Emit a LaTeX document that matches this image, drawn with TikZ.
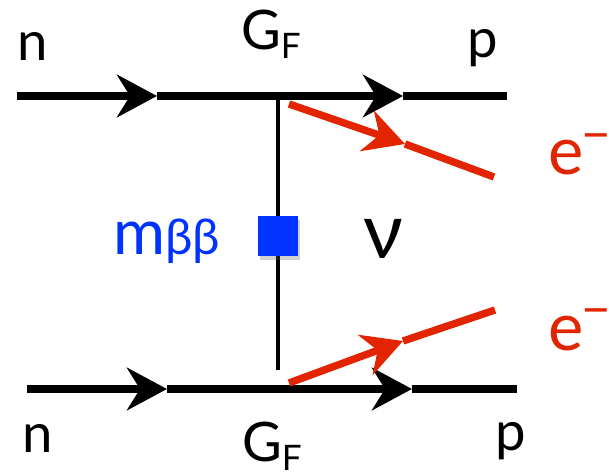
\documentclass[tikz,border=0pt]{standalone}
\usepackage{fontspec}
\setmainfont{Lato}
\usepackage{tikz}
\usetikzlibrary{arrows.meta, shadows}
\definecolor{accRed}{RGB}{226, 36, 0}
\definecolor{accBlue}{RGB}{0, 51, 255}
\newcommand{\lowsub}[1]{\raisebox{-0.18cm}{\fontsize{20}{20}\selectfont #1}}
\newcommand{\upminus}{\kern-1pt\raisebox{0.45cm}{\fontsize{29}{30}\selectfont −}}

\begin{document}
\begin{tikzpicture}[
        x=0.02cm, y=-0.02cm,
        font=\fontsize{31}{36}\selectfont,
        lbl/.style={anchor=base west, inner sep=0pt, outer sep=0pt},
        fer/.style={line width=4.5pt, black},
        lep/.style={line width=4.2pt, accRed},
        prop/.style={line width=2.2pt, black},
        arr/.style={-{Stealth[length=0.8cm, width=0.85cm, inset=0.26cm]}},
        mass/.style={rectangle, fill=accBlue, minimum size=0.8cm, inner sep=0pt,
            drop shadow={opacity=0.2, shadow xshift=0.04cm, shadow yshift=-0.08cm}}
    ]
    \useasboundingbox (0,0) rectangle (612,476);
    % upper line
    \coordinate (nin1)  at (17,96);
    \coordinate (a1)    at (157,96);
    \coordinate (v1)    at (278,96);
    \coordinate (b1)    at (403,96);
    \coordinate (pout1) at (507,96);
    % lower line
    \coordinate (nin2)  at (27,389);
    \coordinate (a2)    at (167,389);
    \coordinate (v2)    at (278,389);
    \coordinate (b2)    at (412,389);
    \coordinate (pout2) at (517,389);
    % electrons
    \coordinate (es1) at (289,104);
    \coordinate (ea1) at (405,144);
    \coordinate (ee1) at (494,177);
    \coordinate (es2) at (289,383);
    \coordinate (ea2) at (403,341);
    \coordinate (ee2) at (495,310);
    \coordinate (vend) at (278,370);

    \node[mass] (mbox) at (278,236) {};
    \draw[prop] (v1) -- (mbox);
    \draw[prop] (mbox) -- (vend);
    \node[mass] at (mbox) {};

    \draw[fer, arr] (nin1) -- (a1);
    \draw[fer] (a1) -- (v1);
    \draw[fer, arr] (v1) -- (b1);
    \draw[fer] (b1) -- (pout1);
    \draw[fer, arr] (nin2) -- (a2);
    \draw[fer] (a2) -- (v2);
    \draw[fer, arr] (v2) -- (b2);
    \draw[fer] (b2) -- (pout2);

    \draw[lep, arr] (es1) -- (ea1);
    \draw[lep] (ea1) -- (ee1);
    \draw[lep, arr] (es2) -- (ea2);
    \draw[lep] (ea2) -- (ee2);

    \node[lbl] (n1)  at (17,61)  {n};
    \node[lbl] (gf1) at (241,50) {G\lowsub{F}};
    \node[lbl] (p1)  at (467,58) {p};
    \node[lbl] (n2)  at (22,452) {n};
    \node[lbl] (gf2) at (242,461) {G\lowsub{F}};
    \node[lbl] (p2)  at (495,450) {p};
    \node[lbl, text=accRed, font=\fontsize{38}{40}\selectfont] (e1) at (548,175) {e\upminus};
    \node[lbl, text=accRed, font=\fontsize{38}{40}\selectfont] (e2) at (548,350) {e\upminus};
    \node[lbl, text=accBlue, font=\fontsize{36}{40}\selectfont] (mbb) at (113,255)
        {m{\fontsize{28}{30}\selectfont ββ}};
    \node[lbl, font=\fontsize{44}{46}\selectfont] (nu) at (363,258) {ν};
\end{tikzpicture}
\end{document}
